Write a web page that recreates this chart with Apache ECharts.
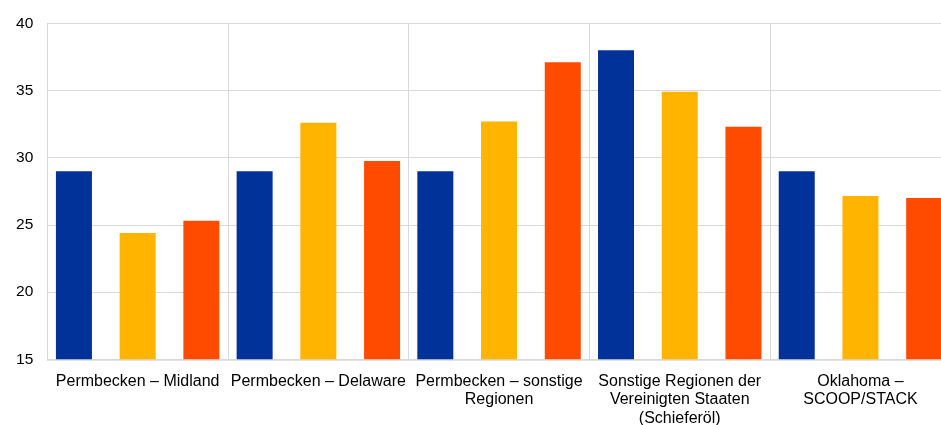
<!DOCTYPE html>
<html>
<head>
<meta charset="utf-8">
<script src="https://cdn.jsdelivr.net/npm/echarts@6/dist/echarts.min.js"></script>
<style>
  html, body { margin: 0; padding: 0; background: #fff; overflow: hidden; }
  /* the plot runs slightly past the right edge of the window */
  #chart { width: 951px; height: 425px; }
</style>
</head>
<body>
<div id="chart"></div>
<script>
// Regions (line breaks as drawn under the axis)
var categories = [
  'Permbecken – Midland',
  'Permbecken – Delaware',
  'Permbecken – sonstige\nRegionen',
  'Sonstige Regionen der\nVereinigten Staaten\n(Schieferöl)',
  'Oklahoma –\nSCOOP/STACK'
];

// Three series per region
var seriesBlue   = [29.0, 29.0, 29.0, 38.0, 29.0];
var seriesYellow = [24.4, 32.6, 32.7, 34.9, 27.15];
var seriesOrange = [25.3, 29.75, 37.1, 32.3, 27.0];

var yMin = 15, yMax = 40, yStep = 5;

var chart = echarts.init(document.getElementById('chart'), null, { renderer: 'canvas' });

var gridColor = '#d9d9d9';
var fontFamily = 'Liberation Sans, Arial, sans-serif';

function barSeries(data, color) {
  return {
    type: 'bar',
    data: data,
    barWidth: 36,
    barGap: '77%',
    itemStyle: { color: color },
    emphasis: { disabled: true }
  };
}

chart.setOption({
  animation: false,
  grid: {
    left: 47.3, top: 23.3, bottom: 65.7, right: 0.2,
    containLabel: false,
    outerBoundsMode: 'none'
  },
  xAxis: {
    type: 'category',
    data: categories,
    boundaryGap: true,
    axisLine: { show: true, lineStyle: { color: gridColor, width: 1.5 } },
    axisTick: { show: false },
    splitLine: { show: true, lineStyle: { color: gridColor, width: 1 } },
    axisLabel: {
      interval: 0,
      margin: 13,
      color: '#000',
      fontFamily: fontFamily,
      fontSize: 16,
      lineHeight: 18.5,
      align: 'center'
    }
  },
  yAxis: {
    type: 'value',
    min: yMin,
    max: yMax,
    interval: yStep,
    axisLine: { show: true, lineStyle: { color: gridColor, width: 1 } },
    axisTick: { show: false },
    splitLine: { show: true, lineStyle: { color: gridColor, width: 1 } },
    axisLabel: {
      margin: 14,
      color: '#000',
      fontFamily: fontFamily,
      fontSize: 15.5
    }
  },
  series: [
    barSeries(seriesBlue, '#003299'),
    barSeries(seriesYellow, '#FFB400'),
    barSeries(seriesOrange, '#FF4B00')
  ]
});
</script>
</body>
</html>
